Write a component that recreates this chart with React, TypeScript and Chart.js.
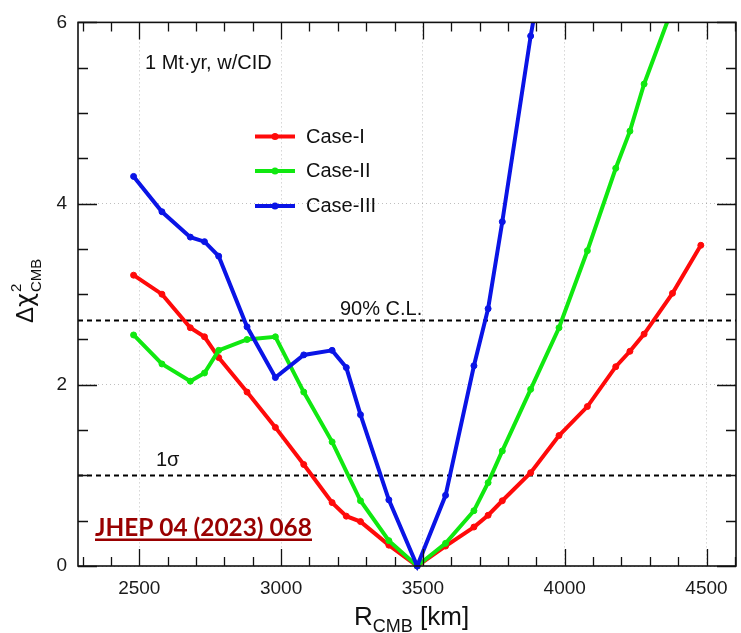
import React, { useEffect, useRef } from "react";
import { Chart, registerables } from "chart.js";

Chart.register(...registerables);

// Core-mantle boundary radius scan: Δχ² versus R_CMB for three cases.
const CASE_I_R = [2480, 2580, 2680, 2730, 2780, 2880, 2980, 3080, 3180, 3230, 3280, 3380, 3480, 3580, 3680, 3730, 3780, 3880, 3980, 4080, 4180, 4230, 4280, 4380, 4480];
const CASE_I_CHI2 = [3.21, 3.0, 2.63, 2.53, 2.3, 1.92, 1.53, 1.12, 0.7, 0.55, 0.49, 0.23, 0.0, 0.22, 0.43, 0.56, 0.72, 1.03, 1.44, 1.76, 2.2, 2.37, 2.56, 3.01, 3.54];

const CASE_II_R = [2480, 2580, 2680, 2730, 2780, 2880, 2980, 3080, 3180, 3280, 3380, 3480, 3580, 3680, 3730, 3780, 3880, 3980, 4080, 4180, 4230, 4280, 4380];
const CASE_II_CHI2 = [2.55, 2.23, 2.04, 2.13, 2.38, 2.5, 2.53, 1.92, 1.37, 0.72, 0.28, 0.0, 0.25, 0.61, 0.92, 1.27, 1.95, 2.63, 3.48, 4.39, 4.8, 5.32, 6.16];

const CASE_III_R = [2480, 2580, 2680, 2730, 2780, 2880, 2980, 3080, 3180, 3230, 3280, 3380, 3480, 3580, 3680, 3730, 3780, 3880, 3980];
const CASE_III_CHI2 = [4.3, 3.91, 3.63, 3.58, 3.42, 2.64, 2.08, 2.33, 2.38, 2.19, 1.67, 0.73, 0.0, 0.78, 2.21, 2.84, 3.8, 5.85, 7.6];

const CASE_LABELS = ["Case-I", "Case-II", "Case-III"];
const CASE_COLORS = ["#ff0a0a", "#10e810", "#0a14e6"];

// Reference levels
const CL90 = 2.71;
const ONE_SIGMA = 1.0;

// Axes
const X_MIN = 2284;
const X_MAX = 4604;
const X_TICKS = [2500, 3000, 3500, 4000, 4500];
const X_MINOR_STEP = 100;
const Y_MIN = 0;
const Y_MAX = 6;
const Y_TICKS = [0, 2, 4, 6];
const Y_MINOR_STEP = 0.5;

const SANS = "'Liberation Sans', Arial, Helvetica, sans-serif";

const pts = (xs: number[], ys: number[]) => xs.map((x, i) => ({ x, y: ys[i] }));

const caseDataset = (i: number, xs: number[], ys: number[]) => ({
  label: CASE_LABELS[i],
  data: pts(xs, ys),
  borderColor: CASE_COLORS[i],
  backgroundColor: CASE_COLORS[i],
  borderWidth: 4,
  pointRadius: 3,
  pointBorderWidth: 1,
  pointBorderColor: CASE_COLORS[i],
  pointBackgroundColor: CASE_COLORS[i],
  tension: 0,
  order: 3 - i,
  clip: { left: 6, right: 6, top: 0, bottom: 6 },
});

const levelDataset = (level: number) => ({
  label: "",
  data: [
    { x: X_MIN, y: level },
    { x: X_MAX, y: level },
  ],
  borderColor: "#000",
  borderWidth: 2,
  borderDash: [5, 4],
  pointRadius: 0,
  order: 10,
});

// Inward ticks on all four sides plus the frame box.
const frameTicks = {
  id: "frameTicks",
  afterDatasetsDraw(chart: any) {
    const { ctx, chartArea: a, scales } = chart;
    const xs = scales.x;
    const ys = scales.y;
    ctx.save();
    ctx.strokeStyle = "#111";
    ctx.lineWidth = 1.3;
    ctx.beginPath();
    const xStart = Math.ceil(X_MIN / X_MINOR_STEP) * X_MINOR_STEP;
    for (let v = xStart; v <= X_MAX; v += X_MINOR_STEP) {
      const px = Math.round(xs.getPixelForValue(v)) + 0.5;
      const major = X_TICKS.includes(v);
      const len = major ? 17 : 9;
      ctx.moveTo(px, a.bottom);
      ctx.lineTo(px, a.bottom - len);
      ctx.moveTo(px, a.top);
      ctx.lineTo(px, a.top + len);
    }
    for (let v = Y_MIN; v <= Y_MAX + 1e-9; v += Y_MINOR_STEP) {
      const py = Math.round(ys.getPixelForValue(v)) + 0.5;
      const major = Y_TICKS.includes(v);
      const len = major ? 19 : 10;
      ctx.moveTo(a.left, py);
      ctx.lineTo(a.left + len, py);
      ctx.moveTo(a.right, py);
      ctx.lineTo(a.right - len, py);
    }
    ctx.stroke();
    ctx.lineWidth = 1.6;
    ctx.strokeRect(a.left, a.top, a.right - a.left, a.bottom - a.top);
    ctx.restore();
  },
};

// Axis titles, annotations, legend and reference tag.
const annotations = {
  id: "annotations",
  afterDraw(chart: any) {
    const { ctx, scales } = chart;
    const ys = scales.y;
    ctx.save();
    ctx.fillStyle = "#111";
    ctx.textBaseline = "alphabetic";
    ctx.textAlign = "left";

    // x title: R_CMB [km]
    {
      let x = 354;
      const base = 625;
      ctx.font = `26px ${SANS}`;
      ctx.fillText("R", x, base);
      x += ctx.measureText("R").width;
      ctx.font = `18px ${SANS}`;
      ctx.fillText("CMB", x, base + 7);
      x += ctx.measureText("CMB").width;
      ctx.font = `26px ${SANS}`;
      ctx.fillText(" [km]", x, base);
    }

    // y title: Δχ²_CMB (rotated)
    {
      ctx.save();
      ctx.translate(33, 323);
      ctx.rotate(-Math.PI / 2);
      let x = 0;
      ctx.font = `24px ${SANS}`;
      ctx.fillText("Δ", x, 0);
      x += ctx.measureText("Δ").width;
      ctx.font = `24px 'DejaVu Sans', ${SANS}`;
      ctx.fillText("χ", x, 0);
      x += ctx.measureText("χ").width + 1;
      ctx.font = `15px ${SANS}`;
      ctx.fillText("2", x, -12);
      ctx.fillText("CMB", x, 8);
      ctx.restore();
    }

    // Condition label
    ctx.font = `20px ${SANS}`;
    ctx.fillText("1 Mt·yr, w/CID", 145, 69);

    // Reference level labels
    ctx.fillText("90% C.L.", 340, ys.getPixelForValue(CL90) - 5);
    ctx.fillText("1σ", 156, ys.getPixelForValue(ONE_SIGMA) - 9);

    // Legend
    const legendY = [136.5, 171, 206];
    CASE_LABELS.forEach((label, i) => {
      const y = legendY[i];
      ctx.strokeStyle = CASE_COLORS[i];
      ctx.lineWidth = 4;
      ctx.beginPath();
      ctx.moveTo(255, y);
      ctx.lineTo(295, y);
      ctx.stroke();
      ctx.fillStyle = CASE_COLORS[i];
      ctx.beginPath();
      ctx.arc(275, y, 3.5, 0, Math.PI * 2);
      ctx.fill();
      ctx.fillStyle = "#111";
      ctx.font = `20px ${SANS}`;
      ctx.textBaseline = "middle";
      ctx.fillText(label, 306, y + 0.5);
      ctx.textBaseline = "alphabetic";
    });

    // Reference tag
    {
      const tag = "JHEP 04 (2023) 068";
      const left = 95;
      const width = 217;
      let size = 24;
      ctx.font = `bold ${size}px Lato, 'Open Sans', sans-serif`;
      size = size * (width / ctx.measureText(tag).width);
      ctx.font = `bold ${size}px Lato, 'Open Sans', sans-serif`;
      ctx.fillStyle = "#990000";
      ctx.fillText(tag, left, 536);
      ctx.fillRect(left, 538.5, width, 2.5);
    }

    ctx.restore();
  },
};

export default function App() {
  const ref = useRef<HTMLCanvasElement>(null);

  useEffect(() => {
    const canvas = ref.current;
    if (!canvas) return;
    const chart = new Chart(canvas, {
      type: "line",
      data: {
        datasets: [
          caseDataset(0, CASE_I_R, CASE_I_CHI2),
          caseDataset(1, CASE_II_R, CASE_II_CHI2),
          caseDataset(2, CASE_III_R, CASE_III_CHI2),
          levelDataset(CL90),
          levelDataset(ONE_SIGMA),
        ] as any,
      },
      options: {
        responsive: false,
        animation: false,
        devicePixelRatio: 1,
        layout: { padding: { top: 17, right: 2, left: 0, bottom: 0 } },
        plugins: {
          legend: { display: false },
          tooltip: { enabled: false },
        },
        scales: {
          x: {
            type: "linear",
            min: X_MIN,
            max: X_MAX,
            afterBuildTicks: (s: any) => {
              s.ticks = X_TICKS.map((value) => ({ value }));
            },
            afterFit: (s: any) => {
              s.height = 67;
            },
            ticks: {
              color: "#1a1a1a",
              font: { family: SANS, size: 19 },
              padding: 11,
              maxRotation: 0,
              callback: (v: any) => String(v),
            },
            grid: { color: "rgba(0,0,0,0.25)", lineWidth: 1, drawTicks: false },
            border: { display: false, dash: [1, 3] },
          },
          y: {
            type: "linear",
            min: Y_MIN,
            max: Y_MAX,
            afterBuildTicks: (s: any) => {
              s.ticks = Y_TICKS.map((value) => ({ value }));
            },
            afterFit: (s: any) => {
              s.width = 78;
            },
            ticks: {
              color: "#1a1a1a",
              font: { family: SANS, size: 19 },
              padding: 11,
              callback: (v: any) => String(v),
            },
            grid: { color: "rgba(0,0,0,0.25)", lineWidth: 1, drawTicks: false },
            border: { display: false, dash: [1, 3] },
          },
        },
      } as any,
      plugins: [frameTicks, annotations],
    });
    return () => chart.destroy();
  }, []);

  return (
    <div style={{ position: "absolute", left: 0, top: 0, width: 741, height: 633, background: "#fff" }}>
      <canvas ref={ref} width={741} height={633} style={{ display: "block" }} />
    </div>
  );
}
